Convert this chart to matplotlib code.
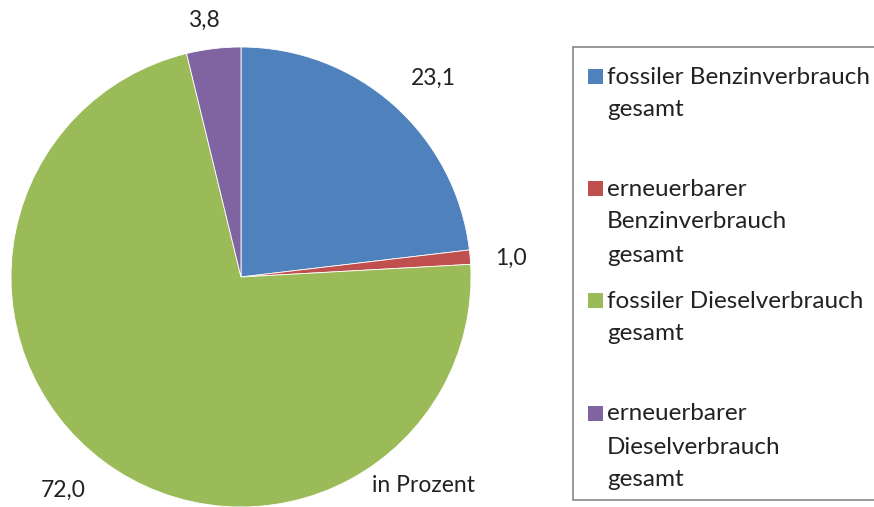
import matplotlib.pyplot as plt
from matplotlib.patches import Rectangle

# anteile in prozent
labels = ["fossiler Benzinverbrauch\ngesamt",
          "erneuerbarer\nBenzinverbrauch\ngesamt",
          "fossiler Dieselverbrauch\ngesamt",
          "erneuerbarer\nDieselverbrauch\ngesamt"]
values = [23.1, 1.0, 72.0, 3.8]
value_text = ["23,1", "1,0", "72,0", "3,8"]
colors = ["#4F81BD", "#C0504D", "#9BBB59", "#8064A2"]

W, H = 874, 507
plt.rcParams['font.family'] = ['Lato', 'DejaVu Sans']
fig = plt.figure(figsize=(W / 100, H / 100), dpi=100)

def fx(px):
    return px / W

def fy(py):
    return 1 - py / H

# pie area
ax = fig.add_axes([fx(11), fy(507), fx(460), 460 / H])
ax.pie(values, colors=colors, startangle=90, counterclock=False, radius=1,
       wedgeprops=dict(edgecolor='white', linewidth=0.6))
ax.set_xlim(-1, 1)
ax.set_ylim(-1, 1)
ax.set_aspect('auto')
ax.axis('off')

# data labels
label_pos = [(433, 78), (511, 258), (63, 490), (204, 20)]
for (px, py), t in zip(label_pos, value_text):
    fig.text(fx(px), fy(py), t, fontsize=16.5, ha='center', va='center', color='#222222')
fig.text(fx(423), fy(486), "in Prozent", fontsize=16.5, ha='center', va='center', color='#222222')

# legend box
fig.patches.append(Rectangle((fx(573), fy(500)), fx(310), 453 / H, transform=fig.transFigure,
                             facecolor='white', edgecolor='#888888', linewidth=1.2))
entry_y = [77, 189, 301, 414]
for y, lab, c in zip(entry_y, labels, colors):
    fig.patches.append(Rectangle((fx(588), fy(y + 7)), fx(15), 15 / H, transform=fig.transFigure,
                                 facecolor=c, edgecolor='none'))
    for k, line in enumerate(lab.split("\n")):
        fig.text(fx(607), fy(y + k * 33), line, fontsize=17.5, ha='left', va='center',
                 color='#222222')

fig.savefig("out.png", dpi=100)
